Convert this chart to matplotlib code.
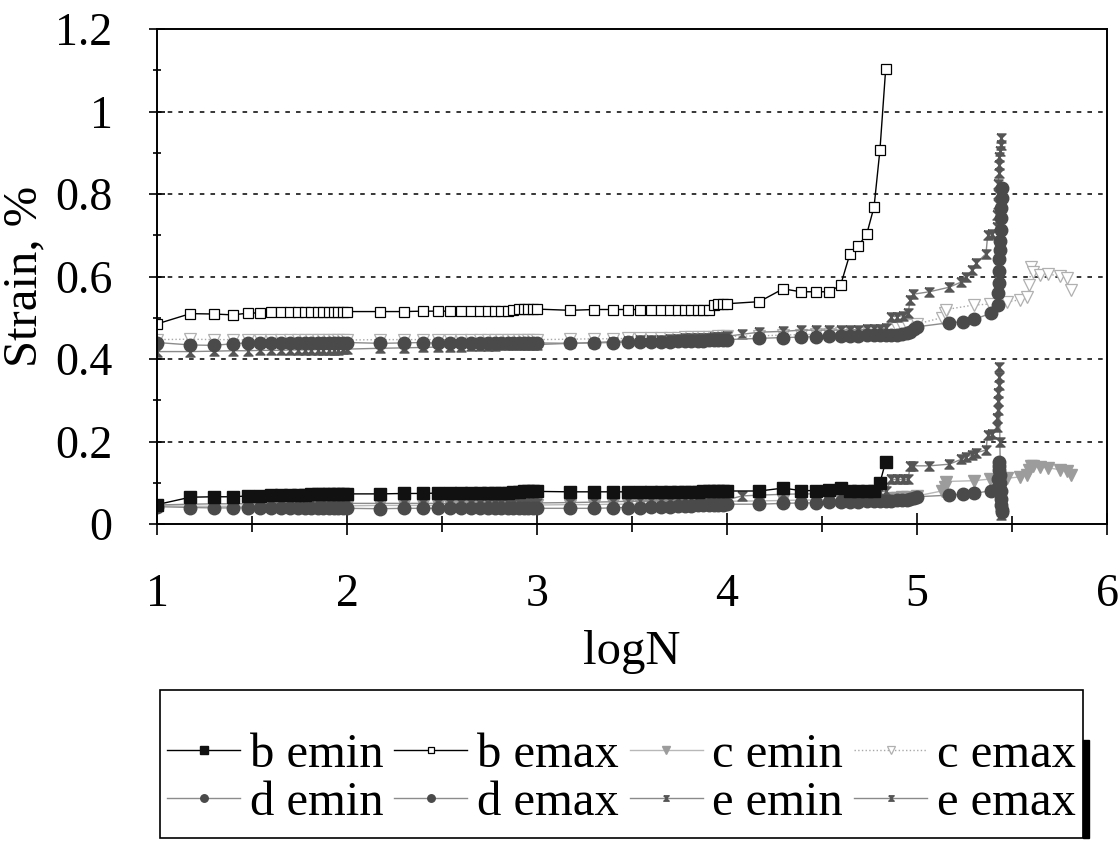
import numpy as np
import matplotlib
matplotlib.use("Agg")
import matplotlib.pyplot as plt
from matplotlib.lines import Line2D
from matplotlib.patches import Rectangle
from matplotlib.ticker import MultipleLocator

plt.rcParams['font.family'] = ['Liberation Serif', 'DejaVu Serif']

# logN positions shared by every test up to 10^4 cycles
logN_early = [1.000, 1.176, 1.301, 1.398, 1.477, 1.544, 1.602, 1.653, 1.699, 1.740,
              1.778, 1.813, 1.845, 1.875, 1.903, 1.929, 1.954, 1.978, 2.000,
              2.176, 2.301, 2.398, 2.477, 2.544, 2.602, 2.653, 2.699, 2.740,
              2.778, 2.813, 2.845, 2.875, 2.903, 2.929, 2.954, 2.978, 3.000,
              3.176, 3.301, 3.398, 3.477, 3.544, 3.602, 3.653, 3.699, 3.740,
              3.778, 3.813, 3.845, 3.875, 3.903, 3.929, 3.954, 3.978, 4.000]

b_emax_early = [0.485, 0.510, 0.509, 0.507, 0.511, 0.512, 0.513, 0.513, 0.514, 0.514,
                0.514, 0.515, 0.515, 0.515, 0.515, 0.515, 0.515, 0.515, 0.515,
                0.515, 0.515, 0.516, 0.516, 0.516, 0.516, 0.516, 0.516, 0.516,
                0.516, 0.516, 0.516, 0.520, 0.521, 0.521, 0.521, 0.521, 0.521,
                0.518, 0.520, 0.520, 0.520, 0.520, 0.520, 0.520, 0.520, 0.519,
                0.519, 0.519, 0.519, 0.518, 0.518, 0.531, 0.533, 0.533, 0.534]
b_emin_early = [0.047, 0.065, 0.066, 0.066, 0.068, 0.069, 0.070, 0.070, 0.071, 0.071,
                0.071, 0.072, 0.072, 0.072, 0.072, 0.072, 0.073, 0.073, 0.073,
                0.073, 0.074, 0.074, 0.075, 0.075, 0.075, 0.075, 0.075, 0.075,
                0.075, 0.075, 0.076, 0.078, 0.078, 0.079, 0.079, 0.079, 0.079,
                0.078, 0.078, 0.078, 0.078, 0.078, 0.078, 0.078, 0.078, 0.078,
                0.078, 0.078, 0.078, 0.079, 0.079, 0.080, 0.080, 0.080, 0.080]
c_emin_early = [0.044, 0.043, 0.043, 0.043, 0.043, 0.043, 0.043, 0.043, 0.044, 0.044,
                0.044, 0.044, 0.044, 0.044, 0.044, 0.044, 0.044, 0.044, 0.044,
                0.045, 0.045, 0.045, 0.045, 0.045, 0.045, 0.045, 0.045, 0.045,
                0.045, 0.045, 0.045, 0.046, 0.046, 0.046, 0.046, 0.046, 0.046,
                0.047, 0.047, 0.048, 0.048, 0.049, 0.049, 0.050, 0.050, 0.051,
                0.051, 0.052, 0.052, 0.053, 0.053, 0.053, 0.054, 0.054, 0.055]
c_emax_early = [0.447, 0.448, 0.447, 0.447, 0.446, 0.446, 0.446, 0.446, 0.446, 0.446,
                0.446, 0.446, 0.446, 0.446, 0.446, 0.446, 0.446, 0.446, 0.446,
                0.447, 0.447, 0.447, 0.447, 0.447, 0.447, 0.447, 0.447, 0.447,
                0.447, 0.447, 0.447, 0.447, 0.447, 0.447, 0.447, 0.447, 0.447,
                0.448, 0.449, 0.449, 0.450, 0.450, 0.451, 0.451, 0.452, 0.452,
                0.453, 0.453, 0.453, 0.454, 0.454, 0.454, 0.455, 0.455, 0.455]
d_emin_early = [0.042, 0.040, 0.039, 0.039, 0.039, 0.038, 0.038, 0.038, 0.038, 0.038,
                0.038, 0.038, 0.038, 0.038, 0.038, 0.038, 0.038, 0.038, 0.038,
                0.037, 0.038, 0.038, 0.038, 0.038, 0.038, 0.038, 0.038, 0.038,
                0.038, 0.038, 0.038, 0.038, 0.038, 0.038, 0.038, 0.038, 0.038,
                0.038, 0.038, 0.039, 0.040, 0.040, 0.041, 0.041, 0.042, 0.043,
                0.043, 0.044, 0.045, 0.045, 0.046, 0.046, 0.047, 0.047, 0.048]
d_emax_early = [0.440, 0.434, 0.433, 0.437, 0.439, 0.440, 0.440, 0.440, 0.440, 0.440,
                0.440, 0.440, 0.440, 0.440, 0.440, 0.440, 0.440, 0.440, 0.440,
                0.438, 0.439, 0.440, 0.438, 0.439, 0.439, 0.439, 0.439, 0.439,
                0.439, 0.439, 0.439, 0.439, 0.439, 0.439, 0.439, 0.439, 0.439,
                0.438, 0.439, 0.440, 0.441, 0.441, 0.442, 0.442, 0.442, 0.443,
                0.443, 0.443, 0.444, 0.444, 0.445, 0.445, 0.446, 0.446, 0.447]
e_emin_early = [0.046, 0.048, 0.049, 0.049, 0.049, 0.049, 0.049, 0.049, 0.049, 0.049,
                0.050, 0.050, 0.050, 0.050, 0.050, 0.050, 0.050, 0.050, 0.050,
                0.050, 0.050, 0.050, 0.050, 0.050, 0.050, 0.050, 0.050, 0.050,
                0.050, 0.050, 0.050, 0.051, 0.051, 0.051, 0.051, 0.051, 0.051,
                0.052, 0.053, 0.054, 0.055, 0.055, 0.056, 0.056, 0.056, 0.057,
                0.057, 0.057, 0.057, 0.058, 0.058, 0.058, 0.058, 0.058, 0.059]
e_emax_early = [0.418, 0.418, 0.419, 0.420, 0.420, 0.421, 0.421, 0.421, 0.422, 0.422,
                0.422, 0.422, 0.423, 0.423, 0.423, 0.423, 0.423, 0.424, 0.424,
                0.426, 0.427, 0.428, 0.429, 0.430, 0.430, 0.431, 0.431, 0.432,
                0.432, 0.433, 0.433, 0.434, 0.434, 0.434, 0.435, 0.435, 0.435,
                0.438, 0.440, 0.442, 0.444, 0.445, 0.446, 0.447, 0.448, 0.449,
                0.450, 0.450, 0.451, 0.452, 0.452, 0.453, 0.453, 0.454, 0.455]

# tails after 10^4 cycles, each test has its own
b_logN_tail = [4.170, 4.295, 4.390, 4.470, 4.538, 4.598, 4.647, 4.690, 4.735, 4.774, 4.805, 4.835]
b_emax_tail = [0.539, 0.570, 0.563, 0.563, 0.563, 0.579, 0.655, 0.674, 0.702, 0.769, 0.907, 1.102]
b_emin_tail = [0.080, 0.087, 0.081, 0.081, 0.082, 0.087, 0.079, 0.079, 0.079, 0.080, 0.100, 0.151]

c_logN_tail = [4.170, 4.295, 4.390, 4.470, 4.538, 4.598, 4.690, 4.774, 4.865, 4.895,
               4.920, 4.945, 5.000, 5.130, 5.145, 5.155, 5.300, 5.385, 5.475, 5.540,
               5.580, 5.592, 5.600, 5.610, 5.647, 5.690, 5.750, 5.790, 5.810]
c_emax_tail = [0.456, 0.458, 0.459, 0.460, 0.461, 0.462, 0.464, 0.466, 0.470, 0.474,
               0.478, 0.482, 0.485, 0.500, 0.512, 0.520, 0.531, 0.533, 0.539, 0.543,
               0.550, 0.579, 0.624, 0.610, 0.604, 0.606, 0.601, 0.596, 0.567]
c_emin_tail = [0.056, 0.057, 0.058, 0.058, 0.059, 0.060, 0.061, 0.062, 0.063, 0.064,
               0.065, 0.066, 0.068, 0.080, 0.090, 0.103, 0.105, 0.109, 0.111, 0.114,
               0.119, 0.130, 0.141, 0.140, 0.138, 0.136, 0.132, 0.128, 0.120]

d_logN_tail = [4.170, 4.295, 4.390, 4.470, 4.538, 4.598, 4.647, 4.690, 4.735, 4.774,
               4.805, 4.835, 4.865, 4.895, 4.920, 4.945, 4.965, 4.985, 5.000, 5.170,
               5.244, 5.300, 5.390, 5.425, 5.428, 5.430, 5.432, 5.434, 5.436, 5.438,
               5.440, 5.442, 5.444, 5.446, 5.448]
d_emax_tail = [0.450, 0.452, 0.453, 0.454, 0.455, 0.456, 0.456, 0.456, 0.457, 0.457,
               0.457, 0.458, 0.458, 0.459, 0.460, 0.462, 0.466, 0.472, 0.478, 0.488,
               0.490, 0.496, 0.511, 0.531, 0.559, 0.585, 0.614, 0.642, 0.664, 0.687,
               0.713, 0.741, 0.765, 0.790, 0.814]
d_emin_tail = [0.048, 0.050, 0.051, 0.051, 0.053, 0.053, 0.054, 0.054, 0.055, 0.055,
               0.055, 0.056, 0.056, 0.057, 0.058, 0.059, 0.061, 0.063, 0.066, 0.070,
               0.072, 0.074, 0.081, 0.090, 0.110, 0.130, 0.150, 0.140, 0.120, 0.100,
               0.080, 0.060, 0.045, 0.035, 0.030]

e_logN_tail = [4.080, 4.170, 4.295, 4.390, 4.470, 4.538, 4.598, 4.647, 4.690, 4.735,
               4.774, 4.805, 4.835, 4.865, 4.895, 4.925, 4.954, 4.963, 4.980, 5.065,
               5.170, 5.234, 5.260, 5.290, 5.310, 5.363, 5.372, 5.395, 5.420, 5.422,
               5.424, 5.426, 5.428, 5.430, 5.432, 5.434, 5.436, 5.440, 5.444]
e_emax_tail = [0.460, 0.465, 0.467, 0.470, 0.470, 0.470, 0.470, 0.471, 0.471, 0.472,
               0.472, 0.473, 0.475, 0.503, 0.503, 0.505, 0.511, 0.543, 0.557, 0.563,
               0.574, 0.587, 0.600, 0.616, 0.632, 0.655, 0.700, 0.703, 0.720, 0.750,
               0.775, 0.800, 0.825, 0.850, 0.870, 0.890, 0.905, 0.920, 0.935]
e_emin_tail = [0.068, 0.070, 0.072, 0.073, 0.073, 0.074, 0.075, 0.078, 0.078, 0.078,
               0.078, 0.078, 0.079, 0.108, 0.108, 0.108, 0.108, 0.141, 0.141, 0.141,
               0.145, 0.157, 0.163, 0.167, 0.173, 0.179, 0.216, 0.218, 0.236, 0.256,
               0.276, 0.297, 0.317, 0.337, 0.357, 0.381, 0.200, 0.100, 0.022]

labels = ['b emin', 'b emax', 'c emin', 'c emax', 'd emin', 'd emax', 'e emin', 'e emax']

# hourglass marker used for test e
hourglass = [(-1, 1), (1, 1), (-1, -1), (1, -1), (-1, 1)]

styles = {
    'b emin': dict(color='black', lw=1.0, ls='-', marker='s', ms=9, mfc='#111111', mec='#111111'),
    'b emax': dict(color='black', lw=1.0, ls='-', marker='s', ms=6.5, mfc='white', mec='black', mew=0.9),
    'c emin': dict(color='#b8b8b8', lw=1.0, ls='-', marker='v', ms=8.5, mfc='#9c9c9c', mec='#9c9c9c'),
    'c emax': dict(color='#a8a8a8', lw=1.0, ls=':', marker='v', ms=8.5, mfc='white', mec='#b0b0b0', mew=0.9),
    'd emin': dict(color='#8c8c8c', lw=1.0, ls='-', marker='o', ms=9, mfc='#4a4a4a', mec='#4a4a4a'),
    'd emax': dict(color='#8c8c8c', lw=1.0, ls='-', marker='o', ms=9, mfc='#4a4a4a', mec='#4a4a4a'),
    'e emin': dict(color='#8a8a8a', lw=1.0, ls='-', marker=hourglass, ms=6.5, mfc='#555555', mec='#555555'),
    'e emax': dict(color='#8a8a8a', lw=1.0, ls='-', marker=hourglass, ms=6.5, mfc='#555555', mec='#555555'),
}

series = {
    'b emin': (logN_early + b_logN_tail, b_emin_early + b_emin_tail),
    'b emax': (logN_early + b_logN_tail, b_emax_early + b_emax_tail),
    'c emin': (logN_early + c_logN_tail, c_emin_early + c_emin_tail),
    'c emax': (logN_early + c_logN_tail, c_emax_early + c_emax_tail),
    'd emin': (logN_early + d_logN_tail, d_emin_early + d_emin_tail),
    'd emax': (logN_early + d_logN_tail, d_emax_early + d_emax_tail),
    'e emin': (logN_early + e_logN_tail, e_emin_early + e_emin_tail),
    'e emax': (logN_early + e_logN_tail, e_emax_early + e_emax_tail),
}

fig = plt.figure(figsize=(11.19, 8.44), dpi=100)
ax = fig.add_axes([157 / 1119, 1 - 524 / 844, 950 / 1119, 495 / 844])

# c underneath, then e, then d, b on top
for name in ['c emax', 'c emin', 'e emin', 'e emax', 'd emin', 'd emax', 'b emin', 'b emax']:
    x, y = series[name]
    ax.plot(x, y, **styles[name])

ax.set_xlim(1, 6)
ax.set_ylim(0, 1.2)
ax.xaxis.set_major_locator(MultipleLocator(1))
ax.xaxis.set_minor_locator(MultipleLocator(0.5))
ax.yaxis.set_minor_locator(MultipleLocator(0.1))
ax.set_yticks([0, 0.2, 0.4, 0.6, 0.8, 1.0, 1.2])
ax.set_yticklabels(['0', '0.2', '0.4', '0.6', '0.8', '1', '1.2'])

for yv in [0.2, 0.4, 0.6, 0.8, 1.0]:
    ax.axhline(yv, color='black', lw=1.1, ls=(0, (3, 4)), zorder=0.5)

for s in ax.spines.values():
    s.set_linewidth(1.4)
ax.tick_params(axis='x', which='major', direction='inout', length=16, width=1.2,
               labelsize=33, pad=28)
ax.tick_params(axis='x', which='minor', direction='inout', length=11, width=1.2)
ax.tick_params(axis='y', which='major', direction='inout', length=12, width=1.2,
               labelsize=33, pad=26)
ax.tick_params(axis='y', which='minor', direction='inout', length=6, width=1.2)

ax.set_xlabel('logN', fontsize=35, labelpad=10)
ax.set_ylabel('Strain, %', fontsize=35, labelpad=6)

# legend laid out row by row, as in the original
order = ['b emin', 'd emin', 'b emax', 'd emax', 'c emin', 'e emin', 'c emax', 'e emax']
handles = [Line2D([], [], **{**styles[n], 'ms': styles[n]['ms'] * 0.6}) for n in order]
leg = fig.legend(handles, order, ncol=4, loc='center',
                 bbox_to_anchor=(160 / 1119, 1 - 779 / 844, 923 / 1119, 0),
                 mode='expand', fontsize=35, frameon=False, borderaxespad=0,
                 handlelength=1.5, handletextpad=0.2, columnspacing=0.4,
                 labelspacing=0.08, borderpad=0.15)

fig.patches.append(Rectangle((160 / 1119, 6 / 844), 923 / 1119, 148 / 844,
                             transform=fig.transFigure, fill=False,
                             edgecolor='black', lw=1.2))
fig.patches.append(Rectangle((1083 / 1119, 6 / 844), 6 / 1119, 98 / 844,
                             transform=fig.transFigure, color='black'))

fig.savefig('out.png', dpi=100)
